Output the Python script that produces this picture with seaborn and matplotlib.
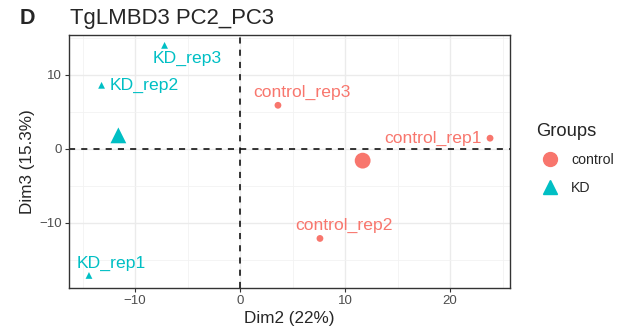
import numpy as np
import pandas as pd
import matplotlib
matplotlib.use("Agg")
import matplotlib.pyplot as plt
from matplotlib.lines import Line2D
import seaborn as sns

# PCA coordinates of each sample (Dim2, Dim3)
samples = ["control_rep1", "control_rep2", "control_rep3", "KD_rep1", "KD_rep2", "KD_rep3"]
groups = ["control", "control", "control", "KD", "KD", "KD"]
dim2 = [23.8, 7.6, 3.6, -14.4, -13.2, -7.2]
dim3 = [1.45, -12.1, 5.9, -17.1, 8.6, 14.0]

group_order = ["control", "KD"]
palette = {"control": "#F8766D", "KD": "#00BFC4"}
markers = {"control": "o", "KD": "^"}

df = pd.DataFrame({"sample": samples, "group": groups, "Dim2": dim2, "Dim3": dim3})
centroids = df.groupby("group", sort=False)[["Dim2", "Dim3"]].mean().reset_index()

sns.set_theme(style="whitegrid")
plt.rcParams["font.family"] = ["Liberation Sans", "DejaVu Sans"]

fig = plt.figure(figsize=(6.24, 3.34), dpi=100)
ax = fig.add_axes([0.1106, 0.1377, 0.8173 - 0.1106, 0.8952 - 0.1377])

ax.set_xlim(-16.3, 25.7)
ax.set_ylim(-18.8, 15.4)

# grid like theme_bw
ax.set_xticks([-10, 0, 10, 20])
ax.set_yticks([-10, 0, 10])
ax.set_xticks([-15, -5, 5, 15, 25], minor=True)
ax.set_yticks([-15, -5, 5, 15], minor=True)
ax.grid(which="major", color="#EBEBEB", linewidth=1.0)
ax.grid(which="minor", color="#F2F2F2", linewidth=0.6)
ax.set_axisbelow(True)
ax.set_facecolor("white")
for s in ax.spines.values():
    s.set_color("#333333")
    s.set_linewidth(1.0)

ax.axhline(0, color="black", linestyle=(0, (4, 4)), linewidth=1.1, zorder=1)
ax.axvline(0, color="black", linestyle=(0, (4, 4)), linewidth=1.1, zorder=1)

sns.scatterplot(data=df, x="Dim2", y="Dim3", hue="group", style="group",
                hue_order=group_order, style_order=group_order,
                palette=palette, markers=markers, s=24, linewidth=0,
                legend=False, ax=ax, zorder=3)
sns.scatterplot(data=centroids, x="Dim2", y="Dim3", hue="group", style="group",
                hue_order=group_order, style_order=group_order,
                palette=palette, markers=markers, s=130, linewidth=0,
                legend=False, ax=ax, zorder=3)

# label offsets in points (text anchor relative to the point)
offsets = {
    "control_rep1": (-6, 0, "right", "center"),
    "control_rep2": (17, 4, "center", "bottom"),
    "control_rep3": (17, 4, "center", "bottom"),
    "KD_rep1": (16, 3, "center", "bottom"),
    "KD_rep2": (6, 0, "left", "center"),
    "KD_rep3": (16.5, -4, "center", "top"),
}
for _, r in df.iterrows():
    dx, dy, ha, va = offsets[r["sample"]]
    ax.annotate(r["sample"], (r["Dim2"], r["Dim3"]), xytext=(dx, dy),
                textcoords="offset points", ha=ha, va=va,
                color=palette[r["group"]], fontsize=12.6, zorder=4)

ax.tick_params(axis="both", which="major", labelsize=9.5, labelcolor="#4D4D4D",
               length=3, width=0.8, color="#333333", pad=2, bottom=True, left=True)
ax.tick_params(which="minor", length=0)
ax.set_xticklabels(["\u221210", "0", "10", "20"])
ax.set_yticklabels(["\u221210", "0", "10"])
ax.set_xlabel("Dim2 (22%)", fontsize=12.3, labelpad=3)
ax.set_ylabel("Dim3 (15.3%)", fontsize=12.3, labelpad=3)

fig.text(0.032, 0.945, "D", fontsize=15.5, fontweight="bold", va="center", ha="left")
fig.text(0.112, 0.945, "TgLMBD3 PC2_PC3", fontsize=15.9, va="center", ha="left")

handles = [Line2D([], [], marker=markers[g], color=palette[g], linestyle="none",
                  markersize=10) for g in group_order]
leg = fig.legend(handles, group_order, title="Groups", loc="upper left",
                 bbox_to_anchor=(0.838, 0.67), frameon=False, fontsize=10.2,
                 title_fontsize=13.2, handletextpad=0.5, labelspacing=0.95)
leg._legend_box.align = "left"

fig.savefig("out.png", dpi=100)
